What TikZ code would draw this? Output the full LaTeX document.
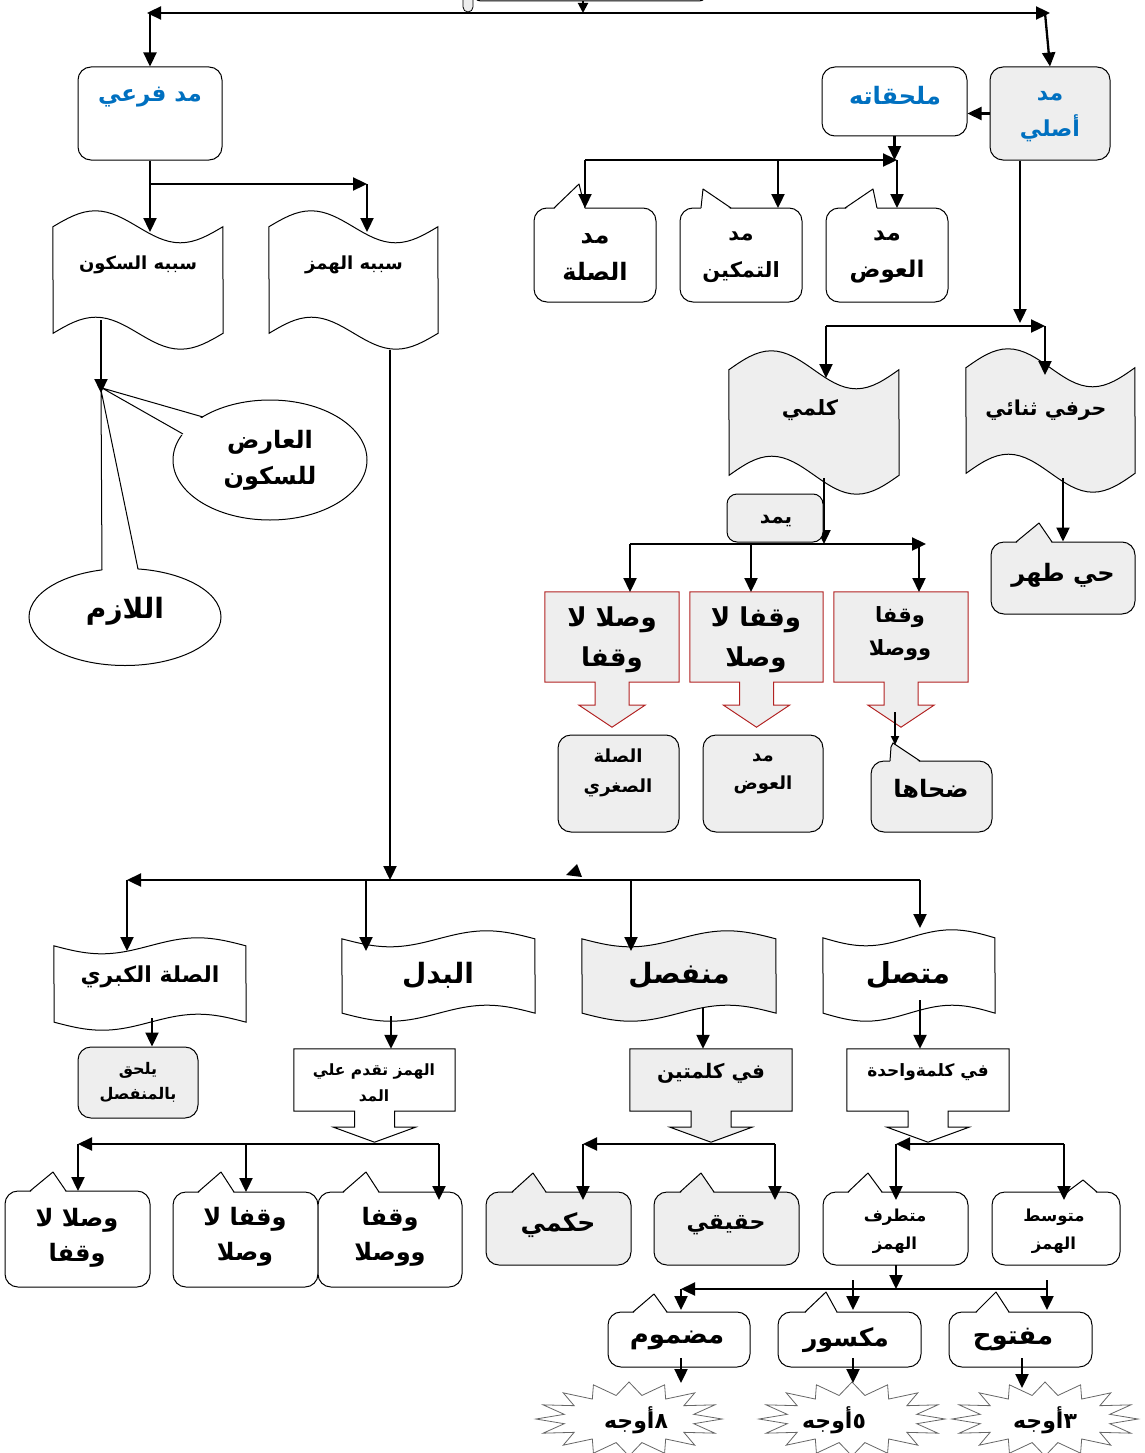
\documentclass[tikz,border=0pt]{standalone}
\usepackage{fontspec}
\usetikzlibrary{arrows.meta,calc,shapes.geometric}
\TeXXeTstate=1
\newfontfamily\arfont[Script=Arabic]{DejaVu Sans}
\newcommand\R[1]{\beginR#1\endR}
\definecolor{bgray}{RGB}{238,238,238}
\definecolor{ablue}{RGB}{0,112,192}
\definecolor{dred}{RGB}{178,34,34}
\tikzset{
  arr/.style={line width=2.3pt,-{Triangle[length=14pt,width=13pt]}},
  arrs/.style={line width=1.8pt,-{Triangle[length=9pt,width=8pt]}},
  geo/.style={rectangle,draw=none,inner sep=0pt},
  rbox/.style={rectangle,draw,line width=1pt,rounded corners=13pt,inner sep=0pt},
  thinline/.style={line width=1pt},
  ar/.style 2 args={inner sep=0pt,align=center,font=\arfont\bfseries\fontsize{#1}{#2}\selectfont},
  starline/.style={draw=black!60,line width=0.8pt,fill=white}
}
% pointer of a callout: fill, x1, tipx, tipy, x2, ytop
\newcommand\ptr[6]{\fill[#1] (#2,#6+1.5) -- (#3,#4) -- (#5,#6+1.5) -- cycle;
  \draw[thinline,line join=round] (#2,#6) -- (#3,#4) -- (#5,#6);}
% wave, crest first
\newcommand\waveup[4]{\filldraw[fill=#4,line width=1pt] (#1.north west) sin ++(#2/4,-#3) cos ++(#2/4,#3) sin ++(#2/4,#3) cos ++(#2/4,-#3)
  -- (#1.south east) sin ++(-#2/4,#3) cos ++(-#2/4,-#3) sin ++(-#2/4,-#3) cos ++(-#2/4,#3) -- cycle;}
% wave, trough first
\newcommand\wavedn[4]{\filldraw[fill=#4,line width=1pt] (#1.north west) sin ++(#2/4,#3) cos ++(#2/4,-#3) sin ++(#2/4,-#3) cos ++(#2/4,#3)
  -- (#1.south east) sin ++(-#2/4,-#3) cos ++(-#2/4,#3) sin ++(-#2/4,#3) cos ++(-#2/4,-#3) -- cycle;}
% box with down arrow: name, fill, draw, stem half, stem len, head half, head len
\newcommand\acall[7]{\filldraw[fill=#2,draw=#3,line width=1pt] (#1.north west) -- (#1.north east) -- (#1.south east)
  -- ($(#1.south)+(#4,0)$) -- ++(0,#5) -- ++(#6-#4,0) -- ($(#1.south)+(0,#5+#7)$) -- ($(#1.south)+(-#6,#5)$)
  -- ++(#6-#4,0) -- ($(#1.south)+(-#4,0)$) -- (#1.south west) -- cycle;}
% starburst: cx, cy
\newcommand\burst[2]{\draw[starline] plot[samples at={0,...,31},variable=\k]
  ({#1+(79.5+13.5*cos(180*\k))*cos(\k*11.25)},{#2+(30.5+6.5*cos(180*\k))*sin(\k*11.25)}) -- cycle;}
\begin{document}
\begin{tikzpicture}[x=1pt,y=-1pt]
\useasboundingbox (0,0) rectangle (1145,1453);
\clip (0,0) rectangle (1145,1453);
% ---------- shapes ----------
\node[rbox,rounded corners=8pt,minimum width=234pt,minimum height=40pt] (root) at (590,-19) {};
\node[rbox,fill=bgray,line width=0.8pt,rounded corners=5pt,minimum width=10pt,minimum height=40pt] (rootbar) at (468,-8) {};
\node[rbox,fill=white,minimum width=144pt,minimum height=93pt] (farai) at (150,113.5) {};
\node[rbox,fill=bgray,minimum width=120pt,minimum height=93pt] (asli) at (1050,113.5) {};
\node[rbox,fill=white,minimum width=145pt,minimum height=69pt] (mulhaq) at (894.5,101.5) {};
\node[rbox,fill=white,minimum width=122pt,minimum height=94pt] (silah) at (595,255) {};
\ptr{white}{554}{579}{184}{585}{208}
\node[rbox,fill=white,minimum width=122pt,minimum height=94pt] (tamkin) at (741,255) {};
\ptr{white}{701}{703}{189}{731}{208}
\node[rbox,fill=white,minimum width=122pt,minimum height=94pt] (iwad) at (887,255) {};
\ptr{white}{845}{873}{189}{877}{208}
\node[geo,minimum width=170pt,minimum height=106pt] (sukun) at (138,280) {};
\waveup{sukun}{170}{16}{white}
\node[geo,minimum width=169pt,minimum height=106pt] (hamz) at (353.5,280) {};
\waveup{hamz}{169}{16}{white}
\node[geo,minimum width=170pt,minimum height=105pt] (kalimi) at (814,422.5) {};
\waveup{kalimi}{170}{19}{bgray}
\node[geo,minimum width=169pt,minimum height=105pt] (harfi) at (1050.5,420.5) {};
\waveup{harfi}{169}{19}{bgray}
\node[ellipse,draw,line width=1pt,fill=white,minimum width=194pt,minimum height=120pt,inner sep=0pt] (aarid) at (270,460) {};
\fill[white] (203,418.5) -- (102,388) -- (183,435.5) -- cycle;
\draw[thinline] (203,417) -- (102,388) -- (183,434);
\node[ellipse,draw,line width=1pt,fill=white,minimum width=192pt,minimum height=97pt,inner sep=0pt] (lazim) at (125,617) {};
\fill[white] (102,572) -- (101,390) -- (138,571) -- cycle;
\draw[thinline] (102,570) -- (101,390) -- (138,569);
\node[rbox,fill=bgray,minimum width=144pt,minimum height=72pt] (hay) at (1063,578) {};
\ptr{bgray}{1016}{1039}{523}{1052}{542}
\node[geo,minimum width=134pt,minimum height=90pt] (rc1) at (612,637) {};
\acall{rc1}{bgray}{dred}{17}{23}{33}{22}
\node[geo,minimum width=133pt,minimum height=90pt] (rc2) at (756.5,637) {};
\acall{rc2}{bgray}{dred}{17}{23}{33}{22}
\node[geo,minimum width=134pt,minimum height=90pt] (rc3) at (901,637) {};
\acall{rc3}{bgray}{dred}{17}{23}{33}{22}
\node[rbox,fill=bgray,minimum width=121pt,minimum height=97pt] (sughra) at (618.5,783.5) {};
\node[rbox,fill=bgray,minimum width=120pt,minimum height=97pt] (iwad2) at (763,783.5) {};
\node[rbox,fill=bgray,minimum width=121pt,minimum height=71pt] (duha) at (931.5,796.5) {};
\fill[bgray] (890,762.5) -- (891,747) -- (893,743) -- (920,762.5) -- cycle;
\draw[thinline] (890,761) -- (891,747) -- (893,743) -- (920,761);
% bottom half
\node[geo,minimum width=192pt,minimum height=76pt] (kubra) at (150,984) {};
\wavedn{kubra}{192}{8}{white}
\node[geo,minimum width=193pt,minimum height=74pt] (badal) at (438.5,976) {};
\wavedn{badal}{193}{8}{white}
\node[geo,minimum width=194pt,minimum height=74pt] (munfasil) at (679,976) {};
\wavedn{munfasil}{194}{8}{bgray}
\node[geo,minimum width=172pt,minimum height=75pt] (muttasil) at (909,975.5) {};
\wavedn{muttasil}{172}{8}{white}
\node[rbox,fill=bgray,minimum width=120pt,minimum height=71pt] (yulhaq) at (138,1082.5) {};
\node[geo,minimum width=161pt,minimum height=62pt] (hamzbox) at (374.5,1080) {};
\acall{hamzbox}{white}{black}{20}{16}{41}{15}
\node[geo,minimum width=162pt,minimum height=62pt] (kalimatain) at (711,1080) {};
\acall{kalimatain}{bgray}{black}{20}{16}{41}{15}
\node[geo,minimum width=162pt,minimum height=62pt] (wahida) at (928,1080) {};
\acall{wahida}{white}{black}{20}{16}{41}{15}
\node[rbox,fill=white,minimum width=145pt,minimum height=96pt] (ca) at (77.5,1239) {};
\ptr{white}{30}{53}{1172}{66}{1191}
\node[rbox,fill=white,minimum width=145pt,minimum height=95pt] (cb) at (245.5,1239.5) {};
\ptr{white}{198}{221}{1172}{234}{1192}
\node[rbox,fill=white,minimum width=144pt,minimum height=95pt] (cc) at (390,1239.5) {};
\ptr{white}{343}{366}{1172}{379}{1192}
\node[rbox,fill=bgray,minimum width=145pt,minimum height=73pt] (hukmi) at (558.5,1228.5) {};
\ptr{bgray}{512}{533}{1173}{546}{1192}
\node[rbox,fill=bgray,minimum width=145pt,minimum height=73pt] (haqiqi) at (726.5,1228.5) {};
\ptr{bgray}{680}{701}{1173}{714}{1192}
\node[rbox,fill=white,minimum width=145pt,minimum height=73pt] (mutatarrif) at (895.5,1228.5) {};
\ptr{white}{848}{868}{1173}{882}{1192}
\node[rbox,fill=white,minimum width=128pt,minimum height=73pt] (mutawassit) at (1056,1228.5) {};
\ptr{white}{1067}{1083}{1180}{1097}{1192}
\node[rbox,fill=white,minimum width=142pt,minimum height=55pt] (madmum) at (679,1339.5) {};
\ptr{white}{633}{654}{1294}{667}{1312}
\node[rbox,fill=white,minimum width=143pt,minimum height=55pt] (maksur) at (849.5,1339.5) {};
\ptr{white}{805}{826}{1292}{837}{1312}
\node[rbox,fill=white,minimum width=143pt,minimum height=55pt] (maftuh) at (1020.5,1339.5) {};
\ptr{white}{976}{996}{1292}{1009}{1312}
\burst{629}{1419}
\burst{852}{1419}
\burst{1045}{1419}
% ---------- connectors ----------
\draw[line width=2.3pt,{Triangle[length=14pt,width=13pt]}-{Triangle[length=14pt,width=13pt]}] (147,13) -- (1050,13);
\draw[line width=2pt,-{Triangle[length=10pt,width=10pt]}] ([xshift=-7pt]root.south) -- (583,13);
\draw[arr] (150,13) -- (farai.north);
\draw[arr] (1045,13) -- (asli.north);
\draw[arr] (asli.west) -- (mulhaq.east |- asli.west);
\draw[arr] (mulhaq.south) -- (894.5,160);
\draw[arr] (585,160) -- (897,160);
\draw[arr] (585,160) -- (585,208);
\draw[arr] (778,160) -- (778,208);
\draw[arr] (897,160) -- (897,208);
\draw[arr] ([xshift=-30pt]asli.south) -- (1020,323);
\draw[arr] (826,326) -- (1045,326);
\draw[arr] (826,326) -- (826,378);
\draw[arr] (1045,326) -- (1045,375);
\draw[arr] (1063,478) -- (hay.north);
\draw[arr] (824,478) -- (824,544);
\node[rbox,fill=bgray,rounded corners=10pt,minimum width=96pt,minimum height=48pt] (yamud) at (775,518) {};
\draw[arr] (630,544) -- (926,544);
\draw[arr] (630,544) -- (630,592);
\draw[arr] (751,544) -- (751,592);
\draw[arr] (919,544) -- (919,592);
\draw[arrs] (895,712) -- (895,745);
\draw[arr] (farai.south) -- (150,232);
\draw[arr] (150,184) -- (367,184);
\draw[arr] (367,184) -- (367,232);
\draw[arr] (101,320) -- (101,393);
\draw[arr] (390,350) -- (390,880);
\draw[arr] (920,880) -- (127,880);
\fill (566,875) -- (577,864) -- (582,877) -- cycle;
\draw[arr] (127,880) -- (127,951);
\draw[arr] (366,880) -- (366,951);
\draw[arr] (631,880) -- (631,951);
\draw[arr] (920,880) -- (920,928);
\draw[arr] (152,1018) -- (yulhaq.north -| 152,0);
\draw[arr] (391,1016) -- (hamzbox.north -| 391,0);
\draw[arr] (703,1008) -- (kalimatain.north -| 703,0);
\draw[arr] (920,1000) -- (wahida.north -| 920,0);
\draw[arr] (439,1144) -- (78,1144);
\draw[arr] (78,1144) -- (78,1191);
\draw[arr] (246,1144) -- (246,1192);
\draw[arr] (439,1144) -- (439,1200);
\draw[arr] (775,1144) -- (583,1144);
\draw[arr] (583,1144) -- (583,1200);
\draw[arr] (775,1144) -- (775,1200);
\draw[arr] (1064,1144) -- (896,1144);
\draw[arr] (896,1144) -- (896,1200);
\draw[arr] (1064,1144) -- (1064,1200);
\draw[arr] (896,1265) -- (896,1289);
\draw[arr] (1047,1289) -- (681,1289);
\draw[arr] (681,1289) -- (681,1310);
\draw[arr] (853,1280) -- (853,1310);
\draw[arr] (1047,1280) -- (1047,1310);
\draw[arr] (681,1358) -- (681,1383);
\draw[arr] (853,1358) -- (853,1383);
\draw[arr] (1022,1358) -- (1022,1388);
% ---------- texts ----------
\node[ar={23}{34},text=ablue] (t-farai) at (150,97) {\R{مد فرعي}};
\node[ar={22}{36},text=ablue] (t-asli) at (1050,117) {\R{مد}\\\R{أصلي}};
\node[ar={24}{34},text=ablue] (t-mulhaq) at (895,96) {\R{ملحقاته}};
\node[ar={24}{37}] (t-silah) at (595,257) {\R{مد}\\\R{الصلة}};
\node[ar={21}{37}] (t-tamkin) at (741,257) {\R{مد}\\\R{التمكين}};
\node[ar={23}{37}] (t-iwad) at (887,257) {\R{مد}\\\R{العوض}};
\node[ar={18}{24}] (t-sukun) at (138,265) {\R{سببه السكون}};
\node[ar={18}{24}] (t-hamz) at (354,265) {\R{سببه الهمز}};
\node[ar={21}{30}] (t-kalimi) at (810,410) {\R{كلمي}};
\node[ar={20.5}{30}] (t-harfi) at (1046,410) {\R{حرفي ثنائي}};
\node[ar={24}{36}] (t-aarid) at (270,460) {\R{العارض}\\\R{للسكون}};
\node[ar={28}{36}] (t-lazim) at (125,611) {\R{اللازم}};
\node[ar={20}{24}] (t-yamud) at (776,521) {\R{يمد}};
\node[ar={24}{34}] (t-hay) at (1063,575) {\R{حي طهر}};
\node[ar={26}{40}] (t-rc1) at (612,640) {\R{وصلا لا}\\\R{وقفا}};
\node[ar={26}{40}] (t-rc2) at (756,640) {\R{وقفا لا}\\\R{وصلا}};
\node[ar={21}{33}] (t-rc3) at (900,634) {\R{وقفا}\\\R{ووصلا}};
\node[ar={18}{30}] (t-sughra) at (618,773) {\R{الصلة}\\\R{الصغري}};
\node[ar={18}{28}] (t-iwad2) at (763,774) {\R{مد}\\\R{العوض}};
\node[ar={24}{30}] (t-duha) at (931,789) {\R{ضحاها}};
\node[ar={22}{28}] (t-kubra) at (150,977) {\R{الصلة الكبري}};
\node[ar={28}{38}] (t-badal) at (438,975) {\R{البدل}};
\node[ar={28}{38}] (t-munfasil) at (679,975) {\R{منفصل}};
\node[ar={29}{38}] (t-muttasil) at (908,975) {\R{متصل}};
\node[ar={16}{25}] (t-yulhaq) at (138,1082) {\R{يلحق}\\\R{بالمنفصل}};
\node[ar={15.5}{26}] (t-hamzbox) at (374,1083) {\R{الهمز تقدم علي}\\\R{المد}};
\node[ar={20}{28}] (t-kalimatain) at (711,1073) {\R{في كلمتين}};
\node[ar={17}{24}] (t-wahida) at (928,1072) {\R{في كلمةواحدة}};
\node[ar={24}{35}] (t-ca) at (77,1238) {\R{وصلا لا}\\\R{وقفا}};
\node[ar={24}{35}] (t-cb) at (245,1237) {\R{وقفا لا}\\\R{وصلا}};
\node[ar={24}{35}] (t-cc) at (390,1237) {\R{وقفا}\\\R{ووصلا}};
\node[ar={25}{32}] (t-hukmi) at (558,1225) {\R{حكمي}};
\node[ar={22}{32}] (t-haqiqi) at (726,1225) {\R{حقيقي}};
\node[ar={16.5}{28}] (t-mutatarrif) at (895,1231) {\R{متطرف}\\\R{الهمز}};
\node[ar={16.5}{28}] (t-mutawassit) at (1054,1231) {\R{متوسط}\\\R{الهمز}};
\node[ar={26}{32}] (t-madmum) at (677,1340) {\R{مضموم}};
\node[ar={25}{32}] (t-maksur) at (846,1340) {\R{مكسور}};
\node[ar={26}{32}] (t-maftuh) at (1013,1340) {\R{مفتوح}};
\node[ar={22}{28}] (t-s1) at (636,1420) {\R{٨أوجه}};
\node[ar={22}{28}] (t-s2) at (834,1420) {\R{٥أوجه}};
\node[ar={22}{28}] (t-s3) at (1045,1420) {\R{٣أوجه}};
\end{tikzpicture}
\end{document}
